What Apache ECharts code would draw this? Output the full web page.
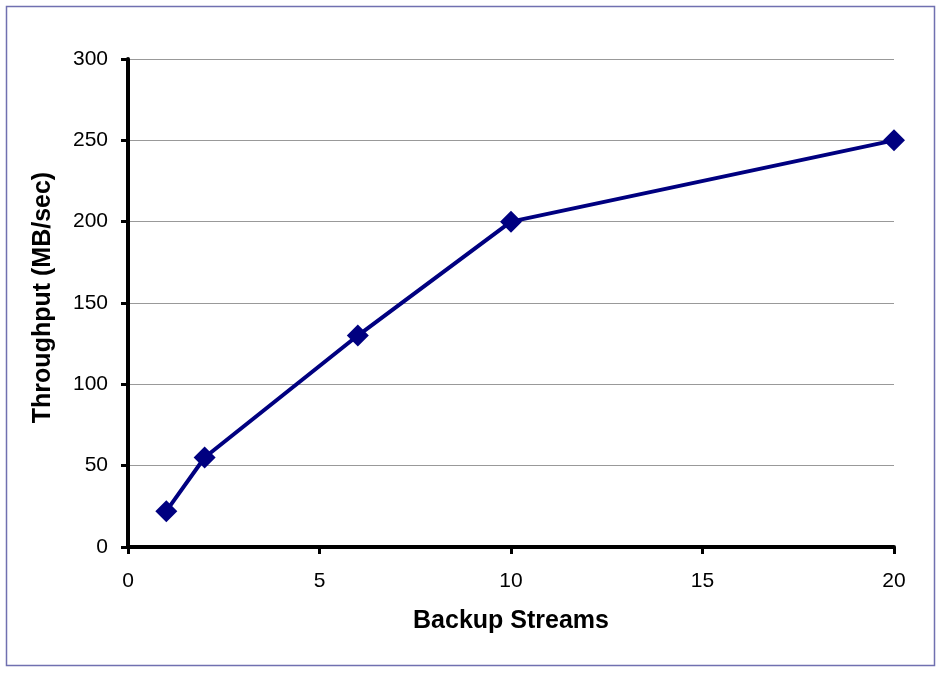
<!DOCTYPE html>
<html>
<head>
<meta charset="utf-8">
<script src="https://cdn.jsdelivr.net/npm/echarts@6/dist/echarts.min.js"></script>
<style>
html,body{margin:0;padding:0;background:#fff;}
#c{width:941px;height:674px;}
</style>
</head>
<body>
<div id="c"></div>
<script>
var streams = [1, 2, 6, 10, 20];
var throughput = [22, 55, 130, 200, 250];
var xTitle = 'Backup Streams';
var yTitle = 'Throughput (MB/sec)';

var chart = echarts.init(document.getElementById('c'), null, {renderer: 'canvas'});
var font = "'Liberation Sans', Arial, sans-serif";
chart.setOption({
  animation: false,
  backgroundColor: '#ffffff',
  graphic: [{
    type: 'rect',
    shape: {x: 6.5, y: 6.5, width: 928, height: 659},
    style: {fill: 'none', stroke: '#7070b0', lineWidth: 1.5},
    silent: true
  }],
  grid: {left: 128, right: 47, top: 59, bottom: 127},
  xAxis: {
    type: 'value', min: 0, max: 20, interval: 5,
    name: xTitle, nameLocation: 'middle', nameGap: 62,
    nameTextStyle: {fontFamily: font, fontSize: 25, fontWeight: 'bold', color: '#000'},
    axisLine: {lineStyle: {color: '#000', width: 4}},
    axisTick: {show: true, length: 7, lineStyle: {color: '#000', width: 3}},
    axisLabel: {fontFamily: font, fontSize: 21, color: '#000', margin: 24},
    splitLine: {show: false}
  },
  yAxis: {
    type: 'value', min: 0, max: 300, interval: 50,
    name: yTitle, nameLocation: 'middle', nameGap: 72, nameRotate: 90,
    nameTextStyle: {fontFamily: font, fontSize: 25, fontWeight: 'bold', color: '#000', padding: [0, 0, 0, 11]},
    axisLine: {show: true, lineStyle: {color: '#000', width: 4}},
    axisTick: {show: true, length: 7, lineStyle: {color: '#000', width: 3}},
    axisLabel: {fontFamily: font, fontSize: 21, color: '#000', margin: 20},
    splitLine: {show: true, lineStyle: {color: '#999999', width: 1}}
  },
  series: [{
    type: 'line',
    data: streams.map(function (s, i) { return [s, throughput[i]]; }),
    symbol: 'diamond',
    symbolSize: 22,
    lineStyle: {color: '#000080', width: 4},
    itemStyle: {color: '#000080'}
  }]
});
</script>
</body>
</html>
